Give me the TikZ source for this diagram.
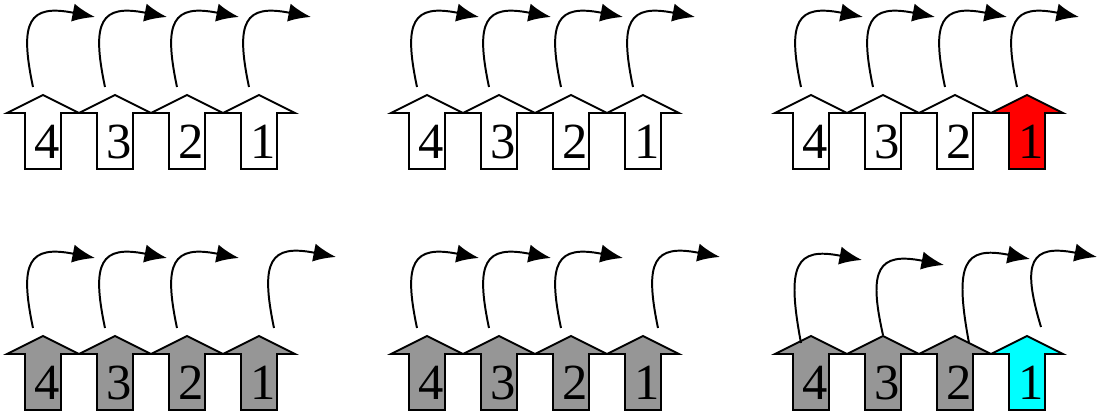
\documentclass[tikz,border=0pt]{standalone}
\usepackage{fontspec}
\setmainfont{Liberation Serif}
\newfontfamily\digitfont{Liberation Serif}
\usetikzlibrary{arrows.meta}
\definecolor{blockgray}{RGB}{150,150,150}
\definecolor{blockred}{RGB}{255,0,0}
\definecolor{blockcyan}{RGB}{0,255,255}
\tikzset{
  block/.style={draw,line width=1.3pt,line join=miter},
  hop/.style={line width=1.4pt,-{Latex[length=16pt,width=13pt]}},
  digit/.style={font=\digitfont\fontsize{36}{38}\selectfont,inner sep=0pt,anchor=base}
}
\begin{document}
\begin{tikzpicture}[x=0.025cm,y=0.025cm]
\useasboundingbox(0,0)rectangle(1099,412);
\foreach \p/\px/\py/\rest/\last in {a/0/317/white/white,b/384/317/white/white,c/768/317/white/blockred,d/0/76/blockgray/blockgray,e/384/76/blockgray/blockgray,f/768/76/blockgray/blockcyan}{
  \foreach \n/\k in {4/0,3/1,2/2,1/3}{
    \ifnum\n=1 \def\f{\last}\else\def\f{\rest}\fi
    \begin{scope}[shift={(\px+43+72*\k,\py)}]
      \draw[block,fill=\f](-36,-18)--(0,0)--(36,-18)--(18,-18)--(18,-74)--(-18,-74)--(-18,-18)--cycle;
      \node[digit](\p\n)at(4,-64){\n};
      \coordinate(top\p\n)at(0,0);
    \end{scope}
  }
}
\foreach \c in {a4,a3,a2,a1,b4,b3,b2,b1,c4,c3,c2,c1,d4,d3,d2,e4,e3,e2}
  \draw[hop]([shift={(-10,8)}]top\c)..controls([shift={(-24,74)}]top\c)and([shift={(-14,91)}]top\c)..([shift={(52,78)}]top\c);
\foreach \c/\sx/\sy/\tx/\ty in {d1/15/8/77/79,e1/15/8/77/79,f4/-10/-7/51/76,f3/0/1/61/71,f2/14/-7/75/77,f1/14/9/70/79}
  \draw[hop]([shift={(\sx,\sy)}]top\c)..controls([shift={(\tx-76,\ty-4)}]top\c)and([shift={(\tx-66,\ty+13)}]top\c)..([shift={(\tx,\ty)}]top\c);
\end{tikzpicture}
\end{document}
